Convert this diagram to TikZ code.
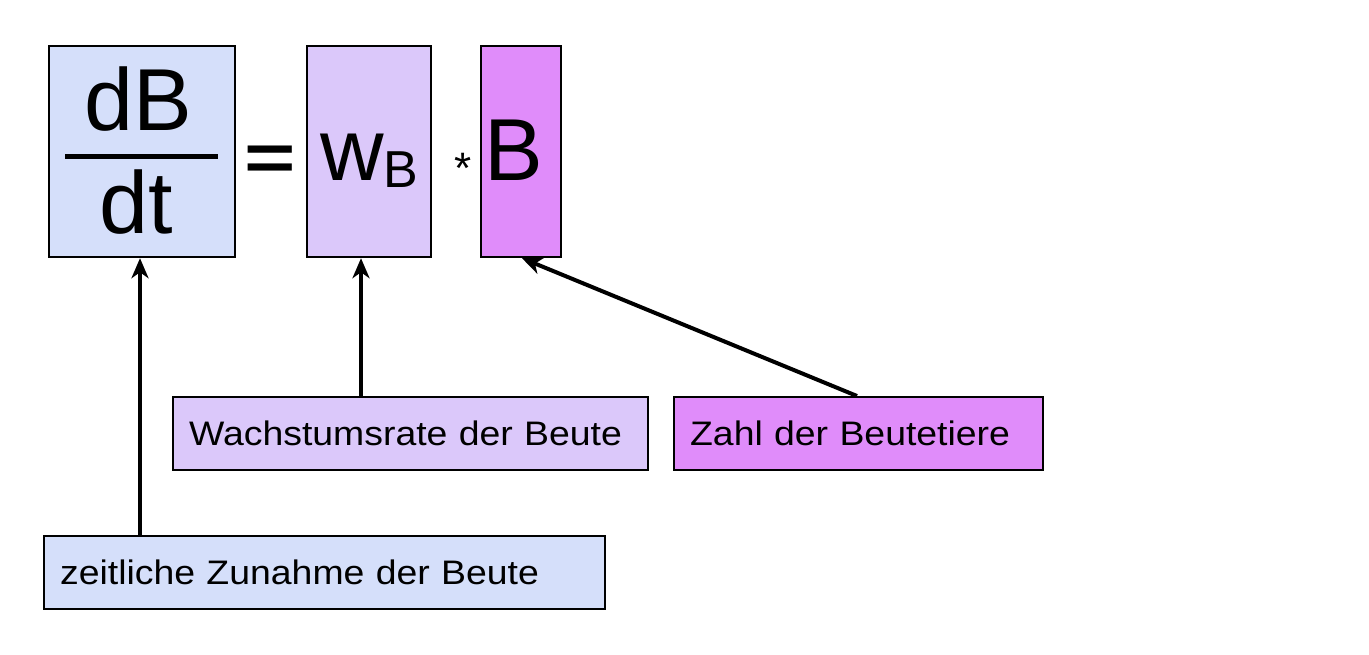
\documentclass[tikz,border=0pt]{standalone}
\usepackage{fontspec}
\setmainfont{Liberation Sans}
\newfontfamily\labfont[FakeStretch=1.1]{Liberation Sans}
\usetikzlibrary{arrows.meta}
\definecolor{cblue}{RGB}{213,223,250}
\definecolor{clav}{RGB}{219,200,250}
\definecolor{cmag}{RGB}{224,140,250}
\tikzset{
  box/.style={draw=black, line width=2.2pt, anchor=north west, inner sep=0pt},
  lab/.style={box, minimum height=73pt, inner xsep=16pt, align=left,
     font=\labfont\fontsize{34}{40}\selectfont},
  conn/.style={line width=4pt, -{Stealth[length=20pt,width=17pt,inset=6pt]}},
}
\begin{document}
\begin{tikzpicture}[x=1pt,y=-1pt]
\useasboundingbox (0,0) rectangle (1369,654);
% top equation boxes
\node[box, fill=cblue, minimum width=186pt, minimum height=211pt] (frac) at (48,45) {};
\node[box, fill=clav, minimum width=124pt, minimum height=211pt] (w) at (306,45) {};
\node[box, fill=cmag, minimum width=80pt, minimum height=211pt] (b) at (480,45) {};
\node[font=\fontsize{88}{88}\selectfont, anchor=base] (dB) at (138,130) {dB};
\node[font=\fontsize{88}{88}\selectfont, anchor=base] (dt) at (136,233) {dt};
\draw[line width=5pt] (65,156) -- (218,156);
\node[font=\fontsize{88}{88}\selectfont\bfseries, anchor=base, inner sep=0pt] (eq) at (270,180.6) {\scalebox{1}[0.754]{=}};
\node[font=\fontsize{88}{88}\selectfont, anchor=base west, inner sep=0pt] (wtxt) at (320,180) {w\raisebox{-7pt}{\fontsize{52}{52}\selectfont B}};
\node[font=\fontsize{44}{44}\selectfont, anchor=center] (star) at (463,168) {*};
\node[font=\fontsize{88}{88}\selectfont, anchor=base, inner sep=0pt] (btxt) at (514,180) {B};
% label boxes
\node[lab, fill=clav, text width=443pt] (wl) at (172,396) {Wachstumsrate der Beute};
\node[lab, fill=cmag, text width=337pt] (zl) at (673,396) {Zahl der Beutetiere};
\node[lab, fill=cblue, text width=529pt] (zz) at (43,535) {zeitliche Zunahme der Beute};
% connectors
\draw[conn] (zz.north -| 140,0) -- (frac.south -| 140,0);
\draw[conn] (wl.north -| 361,0) -- (w.south -| 361,0);
\draw[conn] (zl.north -| 857,0) -- ([xshift=42pt]b.south west);
\end{tikzpicture}
\end{document}
